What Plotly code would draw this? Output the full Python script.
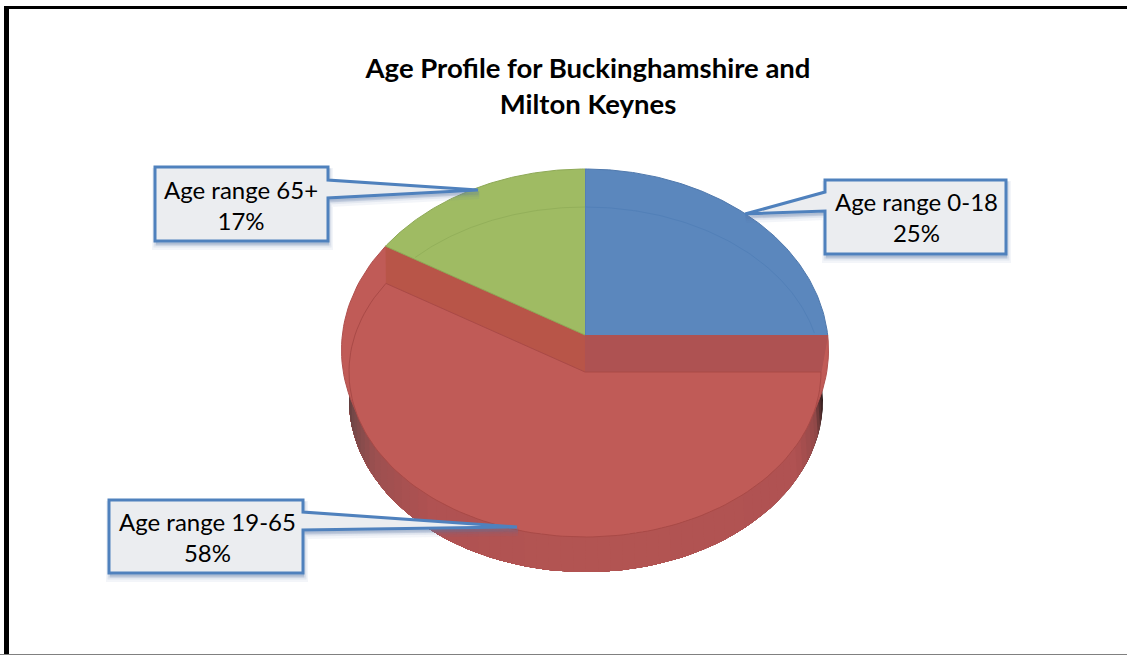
import numpy as np
import plotly.graph_objects as go

# ---- data ----
categories = ["Age range 0-18", "Age range 19-65", "Age range 65+"]
values = [25, 58, 17]
percent_labels = ["25%", "58%", "17%"]
title_text = "Age Profile for Buckinghamshire and<br>Milton Keynes"

# ---- styles / geometry of the drawing ----
W, H = 1127, 655
BLUE, RED, GREEN = "#5b87bd", "#c05b57", "#9fbb63"
BAND_LEFT, BAND_RIGHT = "#b85548", "#ae5252"
CX = 585
APEX_TOP = (CX, 335)
APEX_FACE = (CX, 372)
RIM = dict(cx=CX, cy=350, rx=243.5, ry=181)
FACE = dict(cx=CX, cy=372, rx=236, ry=165)
WALL = dict(cx=586, cy=400, rx=237, ry=172)
ASPECT = 1.46
WARP = 5.0
FONT = "Lato"


def warp(theta):
    return theta - WARP * np.sin(np.radians(2 * theta))


def hit(apex, phi, e):
    """Point where the ray from apex at view angle phi (deg clockwise from top) meets ellipse e."""
    p = np.radians(phi)
    dx, dy = ASPECT * np.sin(p), -np.cos(p)
    ox, oy = (apex[0] - e["cx"]) / e["rx"], (apex[1] - e["cy"]) / e["ry"]
    ux, uy = dx / e["rx"], dy / e["ry"]
    a, b, c = ux**2 + uy**2, 2 * (ox * ux + oy * uy), ox**2 + oy**2 - 1
    t = (-b + np.sqrt(b**2 - 4 * a * c)) / (2 * a)
    return apex[0] + t * dx, apex[1] + t * dy


def arc(apex, t0, t1, e, n=120):
    pts = [hit(apex, warp(t), e) for t in np.linspace(t0, t1, n)]
    return [p[0] for p in pts], [p[1] for p in pts]


def param(e, phi):
    p = np.radians(phi)
    return e["cx"] + e["rx"] * np.sin(p), e["cy"] - e["ry"] * np.cos(p)


cum = np.cumsum([0] + values) / sum(values) * 360
(b0, b1), (r0, r1), (g0, g1) = (cum[0], cum[1]), (cum[1], cum[2]), (cum[2], cum[3])

fig = go.Figure()


def poly(xs, ys, fill, line=None, lw=1, name=None):
    fig.add_trace(go.Scatter(
        x=list(xs), y=list(ys), mode="lines", fill="toself", fillcolor=fill,
        line=dict(color=line or fill, width=lw), hoverinfo="skip" if name is None else "name",
        name=name or "", showlegend=False))


def stroke(xs, ys, color, lw=1):
    fig.add_trace(go.Scatter(x=list(xs), y=list(ys), mode="lines",
                             line=dict(color=color, width=lw), hoverinfo="skip", showlegend=False))


# wall with a gradient that darkens towards the two ends;
# each piece runs to the far end and the next one paints over it, so no seams show
stops_p = [-1.0, -0.93, -0.85, -0.7, 0.0, 0.45, 0.7, 0.88, 1.0]
stops_r = [0x24, 0x4a, 0x90, 0xb0, 0xb3, 0xb0, 0x9c, 0x74, 0x58]
stops_g = [0x14, 0x2a, 0x48, 0x52, 0x55, 0x52, 0x50, 0x48, 0x3a]
stops_b = [0x14, 0x2a, 0x48, 0x52, 0x53, 0x52, 0x50, 0x48, 0x3a]
edges = np.linspace(90, 270, 61)
for a0, a1 in zip(edges[:-1], edges[1:]):
    m = (a0 + a1) / 2
    p = (m - 180) / 90
    col = "rgb(%d,%d,%d)" % (np.interp(p, stops_p, stops_r), np.interp(p, stops_p, stops_g),
                             np.interp(p, stops_p, stops_b))
    span = np.arange(a0, 270.01, 3.0)
    fxs, fys = param(FACE, span)
    wxs, wys = param(WALL, span)
    poly(np.r_[fxs, wxs[::-1]], np.r_[fys, wys[::-1]], col, "rgba(0,0,0,0)", 0)

# red slice seen through its rim (raised edge), over the top of the wall
rx_, ry_ = arc(APEX_TOP, r0, r1, RIM)
poly([APEX_TOP[0]] + rx_, [APEX_TOP[1]] + ry_, RED, "#b0504e", 1)

# bevel bands exposed beside the raised slices
gx, gy = hit(APEX_TOP, warp(r1), RIM)
fgx, fgy = hit(APEX_FACE, warp(r1), FACE)
poly([gx, APEX_TOP[0], APEX_FACE[0], fgx], [gy, APEX_TOP[1], APEX_FACE[1], fgy], BAND_LEFT, BAND_LEFT)
bx, by = hit(APEX_TOP, warp(r0), RIM)
fbx, fby = hit(APEX_FACE, warp(r0), FACE)
poly([APEX_TOP[0], bx, fbx, APEX_FACE[0]], [APEX_TOP[1], by, fby, APEX_FACE[1]], BAND_RIGHT, BAND_RIGHT)

# red face
fx, fy = arc(APEX_FACE, r0, r1, FACE)
poly([APEX_FACE[0]] + fx + [APEX_FACE[0]], [APEX_FACE[1]] + fy + [APEX_FACE[1]], RED, "#a94a47", 1, categories[1])

# blue and green raised slices
x_, y_ = arc(APEX_TOP, b0, b1, RIM)
poly([APEX_TOP[0]] + x_, [APEX_TOP[1]] + y_, BLUE, "#5079ad", 1, categories[0])
x_, y_ = arc(APEX_TOP, g0, g1, RIM)
poly([APEX_TOP[0]] + x_, [APEX_TOP[1]] + y_, GREEN, "#8ea957", 1, categories[2])

# faint bevel lines on the raised slices
phi = np.linspace(0, 90, 100)
lx, ly = param(FACE, phi)
keep = ly <= APEX_TOP[1]
stroke(lx[keep], ly[keep], "#5280b8", 1)
phi = np.linspace(warp(r1) - 360, 0, 100)
lx, ly = param(FACE, phi)
slope = (gy - APEX_TOP[1]) / (gx - APEX_TOP[0])
keep = ly <= APEX_TOP[1] + slope * (lx - APEX_TOP[0])
stroke(lx[keep], ly[keep], "#93b05a", 1)

shapes = []


def rect(x0, y0, x1, y1, color):
    shapes.append(dict(type="rect", x0=x0, y0=y0, x1=x1, y1=y1, fillcolor=color,
                       line=dict(width=0), layer="below"))


# outer frame
rect(4, 6, 9, H, "#000000")
rect(4, 6, W, 9, "#000000")
rect(0, 654, W, H, "#808080")


def callout(x0, y0, x1, y1, side_x, yu, yl, tip):
    if side_x == x0:
        pts = [(x0, y0), (x1, y0), (x1, y1), (x0, y1), (x0, yl), tip, (x0, yu)]
    else:
        pts = [(x0, y0), (x1, y0), (x1, yu), tip, (x1, yl), (x1, y1), (x0, y1)]
    path = lambda dx, dy: "M" + " L".join(f"{px + dx},{py + dy}" for px, py in pts) + " Z"
    for off, alpha, w in [(5, 0.07, 8), (4, 0.10, 5), (3, 0.14, 3)]:
        shapes.append(dict(type="path", path=path(1, off), fillcolor=f"rgba(90,120,165,{alpha})",
                           line=dict(color=f"rgba(90,120,165,{alpha})", width=w), layer="above"))
    shapes.append(dict(type="path", path=path(0, 0), fillcolor="#ebedf0",
                       line=dict(color="#4f81bd", width=3), layer="above"))


callout(825, 180, 1006, 254, 825, 192, 211, (745, 214))
callout(155, 167, 328, 241, 328, 180, 198, (478, 190))
callout(109, 500, 303, 573, 303, 512, 530, (517, 527))

label_pos = [(916, 216.5), (207, 536.5), (241, 205)]
annotations = [
    dict(x=p[0], y=p[1], text=f"{c}<br>{t}", showarrow=False, xanchor="center", yanchor="middle",
         font=dict(family=FONT, size=24, color="#000000"), align="center")
    for c, t, p in zip(categories, percent_labels, label_pos)
]

fig.update_layout(
    width=W, height=H, margin=dict(l=0, r=0, t=0, b=0),
    paper_bgcolor="#ffffff", plot_bgcolor="#ffffff", showlegend=False,
    title=dict(text=title_text, x=588 / W, xanchor="center", y=1 - 78 / H, yanchor="top",
               yref="container", font=dict(family=FONT, size=27.5, color="#000000", weight="bold")),
    xaxis=dict(range=[0, W], visible=False, fixedrange=True),
    yaxis=dict(range=[H, 0], visible=False, fixedrange=True),
    shapes=shapes, annotations=annotations,
)

fig.write_html("out.html", config={"displayModeBar": False},
               post_script="document.body.style.margin='0';")
